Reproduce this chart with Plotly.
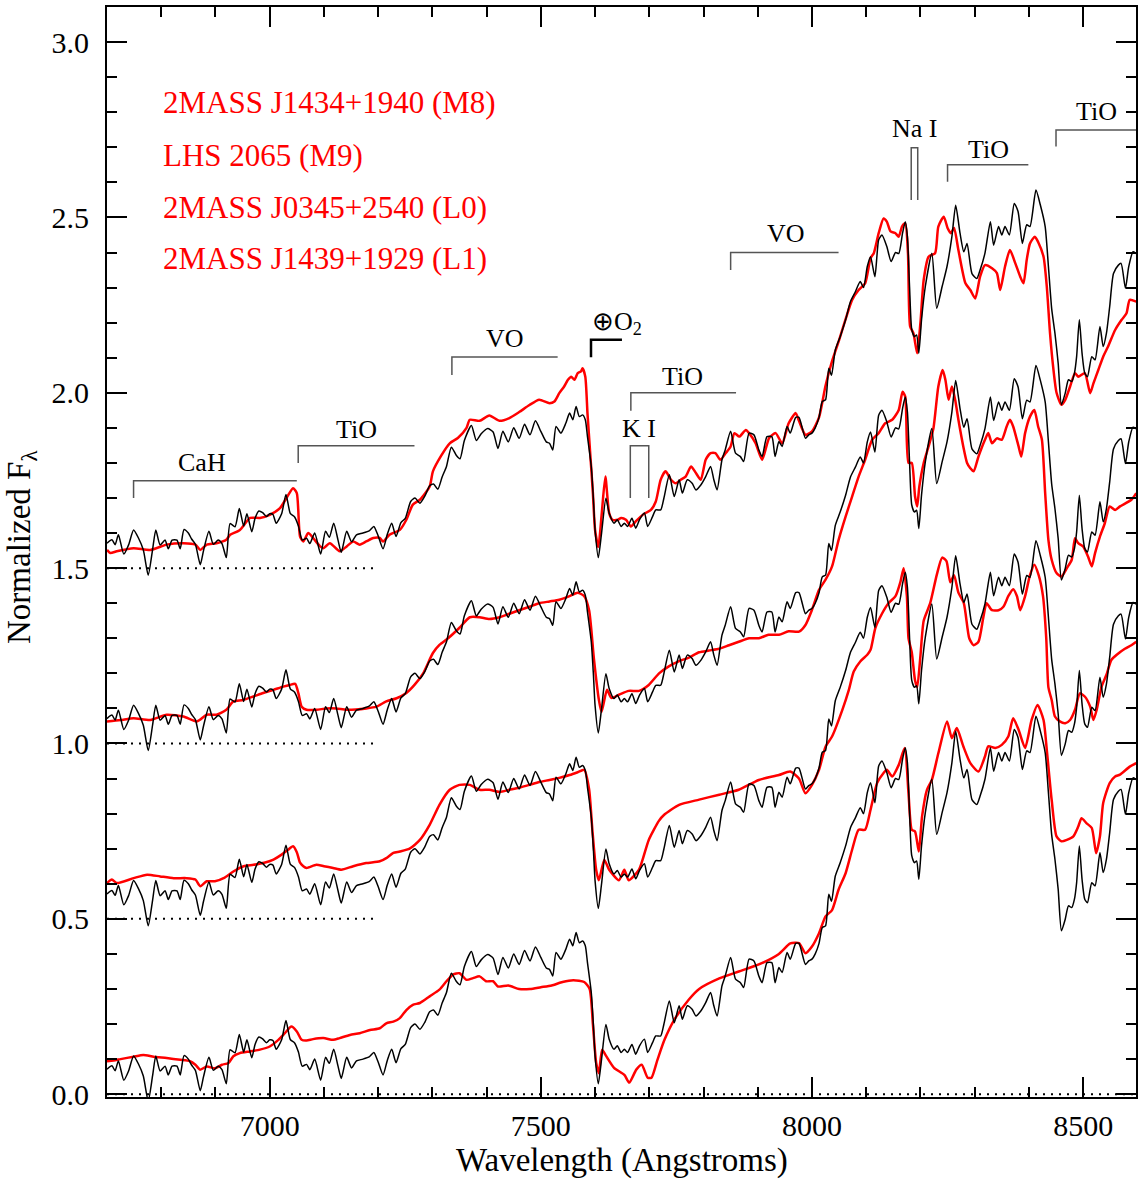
import plotly.graph_objects as go

# ---------------- data ----------------
# black comparison spectrum (same shape shown at every offset), relative flux
black_wl = [6700,6709,6715,6721,6731,6740,6749,6758,6767,6776,6784,6790,6798,6807,6813,6820,6829,6835,6842,6850,
            6856,6863,6872,6878,6888,6896,6905,6912,6920,6927,6936,6944,6952,6958,6967,6973,6980,6987,6994,7000,
            7006,7012,7022,7030,7038,7046,7053,7060,7068,7074,7083,7094,7103,7110,7118,7126,7132,7142,7151,7160,
            7172,7184,7192,7200,7209,7217,7225,7233,7242,7250,7260,7268,7277,7286,7295,7302,7310,7318,7326,7335,
            7344,7351,7359,7372,7381,7390,7402,7412,7421,7430,7440,7450,7460,7470,7480,7490,7500,7510,7516,7522,
            7528,7537,7546,7553,7559,7565,7571,7577,7582,7586,7593,7597,7600,7606,7612,7620,7626,7635,7641,7648,
            7654,7660,7668,7675,7682,7691,7697,7706,7712,7721,7727,7737,7746,7755,7761,7770,7779,7786,7795,7804,
            7813,7819,7825,7834,7840,7850,7859,7868,7874,7884,7893,7902,7908,7917,7926,7932,7939,7945,7954,7960,
            7970,7976,7988,7994,8000,8006,8013,8019,8025,8031,8036,8043,8052,8062,8071,8080,8089,8095,8102,8108,
            8116,8123,8129,8138,8146,8154,8160,8167,8172,8176,8180,8184,8189,8193,8197,8202,8209,8221,8230,8240,
            8249,8258,8265,8273,8280,8286,8295,8304,8310,8319,8329,8335,8344,8350,8356,8364,8373,8380,8388,8396,
            8402,8413,8421,8430,8436,8442,8448,8454,8460,8467,8473,8479,8484,8488,8493,8498,8503,8508,8516,8522,
            8531,8537,8543,8549,8556,8565,8570,8578,8584,8592,8598]
black_flux = [0.071,0.081,0.067,0.095,0.040,0.067,0.109,0.086,0.052,-0.020,0.052,0.109,0.066,0.080,0.055,0.080,0.080,0.055,0.110,0.100,
              0.083,0.068,0.010,0.050,0.105,0.068,0.080,0.070,0.030,0.127,0.118,0.170,0.120,0.155,0.104,0.142,0.163,0.158,0.147,0.155,
              0.153,0.128,0.155,0.210,0.156,0.146,0.120,0.080,0.085,0.070,0.100,0.040,0.105,0.088,0.128,0.080,0.045,0.105,0.075,0.095,
              0.100,0.107,0.119,0.092,0.055,0.097,0.128,0.090,0.130,0.142,0.190,0.200,0.185,0.205,0.235,0.240,0.225,0.260,0.290,0.345,
              0.322,0.312,0.364,0.407,0.364,0.383,0.398,0.388,0.341,0.390,0.360,0.400,0.370,0.410,0.380,0.420,0.390,0.360,0.356,0.337,
              0.404,0.385,0.413,0.442,0.423,0.461,0.432,0.437,0.423,0.375,0.290,0.195,0.109,0.030,0.100,0.199,0.157,0.128,0.138,0.119,
              0.128,0.119,0.142,0.114,0.138,0.157,0.119,0.147,0.166,0.166,0.200,0.266,0.204,0.252,0.214,0.252,0.242,0.223,0.237,0.261,
              0.290,0.252,0.223,0.309,0.337,0.390,0.328,0.318,0.304,0.385,0.380,0.337,0.318,0.375,0.375,0.318,0.361,0.347,0.404,0.385,
              0.430,0.430,0.370,0.380,0.385,0.400,0.430,0.475,0.480,0.570,0.550,0.622,0.660,0.708,0.760,0.788,0.817,0.800,0.860,0.888,
              0.831,0.936,0.950,0.917,0.874,0.900,0.897,0.955,0.988,0.945,0.800,0.680,0.660,0.665,0.613,0.708,0.803,0.898,0.741,0.803,
              0.860,0.945,1.035,0.955,0.902,0.926,0.840,0.826,0.850,0.898,0.988,0.921,0.974,0.950,0.974,0.950,1.040,1.017,0.926,0.979,
              0.974,1.078,1.036,0.974,0.860,0.740,0.670,0.584,0.466,0.499,0.537,0.532,0.556,0.603,0.708,0.613,0.556,0.546,0.603,0.594,
              0.689,0.632,0.670,0.746,0.840,0.864,0.869,0.798,0.859,0.902,0.897]

# red comparison standards
m8_wl = [6700,6706,6718,6749,6780,6810,6841,6863,6872,6884,6902,6920,6927,6945,6964,6982,7000,7019,7031,7043,
         7050,7056,7062,7071,7080,7093,7099,7111,7129,7142,7154,7166,7178,7191,7203,7209,7221,7240,7252,7264,
         7277,7295,7301,7316,7332,7347,7363,7369,7387,7405,7424,7442,7460,7479,7497,7516,7525,7534,7543,7550,
         7556,7562,7568,7574,7577,7582,7586,7591,7596,7600,7606,7612,7619,7626,7632,7642,7648,7657,7666,7675,
         7684,7693,7703,7712,7721,7730,7740,7749,7758,7767,7777,7786,7795,7804,7813,7822,7831,7841,7850,7857,
         7866,7878,7884,7896,7908,7921,7933,7945,7957,7970,7976,7988,8000,8013,8025,8037,8050,8062,8074,8086,
         8098,8108,8114,8123,8132,8138,8145,8154,8160,8166,8172,8177,8181,8187,8194,8200,8206,8215,8227,8233,
         8243,8250,8256,8262,8270,8283,8292,8301,8310,8319,8332,8341,8347,8356,8365,8375,8384,8390,8396,8402,
         8411,8417,8427,8433,8439,8445,8451,8460,8467,8476,8485,8491,8503,8513,8519,8528,8537,8546,8559,8571,
         8580,8586,8598]
m8_flux = [0.052,0.043,0.048,0.057,0.052,0.067,0.071,0.067,0.052,0.067,0.071,0.081,0.095,0.109,0.143,0.143,0.152,0.171,0.200,0.228,
           0.214,0.090,0.076,0.100,0.086,0.062,0.057,0.071,0.048,0.062,0.076,0.067,0.076,0.086,0.086,0.076,0.095,0.109,0.138,0.181,
           0.195,0.233,0.276,0.320,0.356,0.371,0.400,0.423,0.420,0.435,0.420,0.428,0.445,0.465,0.480,0.470,0.475,0.499,0.518,0.537,
           0.546,0.537,0.556,0.561,0.570,0.546,0.442,0.328,0.214,0.109,0.060,0.150,0.261,0.157,0.138,0.138,0.143,0.138,0.119,0.133,
           0.147,0.157,0.166,0.190,0.252,0.276,0.252,0.242,0.252,0.261,0.290,0.271,0.252,0.309,0.328,0.328,0.309,0.328,0.347,0.385,
           0.375,0.394,0.385,0.356,0.309,0.371,0.385,0.356,0.413,0.442,0.420,0.380,0.390,0.430,0.520,0.590,0.650,0.710,0.765,0.793,
           0.812,0.884,0.898,0.955,0.997,0.988,0.960,0.955,0.945,0.974,0.983,0.898,0.689,0.670,0.613,0.700,0.822,0.888,0.898,0.974,
           1.002,0.970,0.955,0.970,0.907,0.812,0.793,0.769,0.831,0.864,0.855,0.841,0.793,0.860,0.907,0.869,0.831,0.812,0.879,0.926,
           0.945,0.930,0.888,0.803,0.669,0.570,0.500,0.466,0.480,0.518,0.556,0.546,0.556,0.499,0.527,0.565,0.603,0.632,0.679,0.708,
           0.727,0.765,0.760]

m9_wl = [6700,6725,6749,6780,6810,6841,6866,6884,6902,6920,6933,6951,6970,6988,7007,7025,7037,7047,7053,7059,
         7068,7086,7105,7123,7142,7178,7197,7215,7234,7252,7267,7283,7301,7313,7329,7350,7369,7387,7405,7424,
         7442,7460,7479,7497,7516,7534,7553,7568,7580,7589,7598,7607,7612,7622,7630,7644,7662,7681,7699,7718,
         7736,7755,7773,7792,7810,7829,7847,7865,7884,7902,7920,7939,7957,7976,7988,8000,8013,8025,8037,8049,
         8062,8074,8086,8098,8111,8123,8135,8148,8160,8167,8172,8178,8184,8190,8194,8198,8206,8215,8224,8233,
         8241,8246,8252,8258,8264,8270,8279,8286,8292,8298,8307,8319,8325,8332,8341,8350,8359,8365,8371,8381,
         8386,8393,8402,8410,8417,8424,8430,8436,8442,8451,8460,8470,8479,8485,8491,8500,8509,8516,8522,8531,
         8540,8549,8559,8568,8589,8598]
m9_flux = [0.063,0.067,0.072,0.067,0.082,0.077,0.063,0.082,0.082,0.096,0.120,0.124,0.134,0.144,0.153,0.162,0.167,0.170,0.143,0.105,
           0.096,0.096,0.100,0.100,0.096,0.100,0.105,0.120,0.129,0.144,0.167,0.200,0.258,0.281,0.300,0.330,0.360,0.360,0.355,0.360,
           0.370,0.380,0.390,0.400,0.405,0.410,0.420,0.430,0.420,0.380,0.240,0.125,0.090,0.153,0.130,0.139,0.150,0.150,0.167,0.200,
           0.220,0.235,0.245,0.260,0.265,0.270,0.280,0.290,0.300,0.300,0.310,0.310,0.320,0.319,0.338,0.381,0.438,0.467,0.505,0.580,
           0.647,0.704,0.761,0.809,0.866,0.885,0.913,0.923,0.951,1.003,0.989,0.800,0.800,0.705,0.676,0.733,0.800,0.847,0.899,1.018,
           1.065,1.037,0.980,1.018,0.980,0.923,0.847,0.800,0.785,0.776,0.818,0.866,0.885,0.856,0.870,0.866,0.904,0.923,0.904,0.847,
           0.818,0.885,0.932,0.951,0.904,0.866,0.714,0.580,0.524,0.486,0.476,0.500,0.524,0.585,0.571,0.562,0.533,0.505,0.543,0.590,
           0.628,0.676,0.666,0.676,0.695,0.714]

l0_wl = [6700,6709,6718,6749,6774,6798,6823,6847,6863,6872,6884,6899,6915,6933,6952,6970,6990,7007,7022,7034,
         7043,7050,7056,7062,7068,7086,7100,7117,7132,7154,7178,7203,7215,7228,7240,7258,7277,7295,7313,7332,
         7350,7369,7387,7405,7424,7442,7460,7479,7497,7516,7534,7553,7568,7580,7589,7595,7602,7607,7617,7626,
         7644,7654,7662,7681,7699,7718,7727,7755,7792,7829,7865,7902,7939,7960,7976,7988,8000,8013,8025,8037,
         8056,8068,8077,8089,8102,8108,8117,8129,8141,8154,8163,8169,8175,8178,8184,8190,8194,8200,8206,8218,
         8230,8240,8248,8255,8262,8270,8280,8290,8298,8307,8316,8322,8332,8344,8353,8362,8371,8378,8384,8393,
         8402,8410,8418,8426,8432,8436,8442,8448,8457,8467,8476,8485,8494,8503,8513,8519,8525,8534,8543,8552,
         8562,8577,8589,8598]
l0_flux = [0.102,0.112,0.102,0.116,0.126,0.121,0.116,0.116,0.112,0.093,0.107,0.107,0.116,0.135,0.150,0.154,0.160,0.169,0.183,0.197,
           0.207,0.190,0.160,0.150,0.145,0.154,0.150,0.145,0.140,0.150,0.159,0.164,0.173,0.188,0.192,0.200,0.225,0.268,0.325,0.368,
           0.382,0.382,0.368,0.368,0.362,0.368,0.374,0.382,0.390,0.396,0.402,0.410,0.418,0.425,0.370,0.254,0.140,0.110,0.168,0.140,
           0.110,0.140,0.110,0.140,0.225,0.280,0.296,0.325,0.340,0.354,0.368,0.396,0.410,0.420,0.400,0.358,0.382,0.425,0.491,0.520,
           0.596,0.653,0.705,0.734,0.753,0.767,0.830,0.870,0.900,0.920,0.960,1.000,0.920,0.800,0.760,0.680,0.660,0.750,0.850,0.900,
           0.980,1.030,1.020,0.960,0.980,0.930,0.900,0.800,0.780,0.790,0.860,0.900,0.880,0.880,0.890,0.920,0.940,0.920,0.880,0.920,
           0.980,1.010,0.980,0.920,0.800,0.660,0.624,0.577,0.563,0.558,0.567,0.596,0.643,0.634,0.605,0.567,0.596,0.662,0.696,0.738,
           0.753,0.770,0.780,0.790]

l1_wl = [6700,6712,6725,6749,6767,6786,6810,6835,6853,6863,6872,6884,6899,6912,6924,6933,6945,6964,6982,7000,
         7016,7028,7040,7050,7059,7068,7080,7099,7117,7129,7148,7166,7185,7203,7215,7228,7240,7252,7264,7277,
         7295,7313,7326,7338,7350,7363,7375,7387,7399,7412,7421,7440,7460,7480,7500,7520,7540,7560,7580,7590,
         7596,7602,7607,7613,7620,7635,7654,7663,7676,7686,7697,7704,7715,7728,7746,7773,7792,7829,7865,7902,
         7939,7960,7976,7988,8000,8013,8025,8037,8049,8062,8074,8086,8098,8108,8120,8132,8138,8148,8160,8171,
         8178,8184,8190,8197,8203,8212,8221,8233,8249,8258,8267,8279,8292,8307,8319,8325,8338,8350,8362,8371,
         8381,8393,8405,8416,8427,8433,8442,8451,8460,8470,8482,8491,8497,8506,8516,8524,8531,8537,8549,8559,
         8568,8586,8598]
l1_flux = [0.094,0.096,0.100,0.107,0.112,0.107,0.103,0.098,0.094,0.084,0.070,0.079,0.074,0.084,0.089,0.108,0.117,0.122,0.127,0.136,
           0.155,0.174,0.193,0.179,0.155,0.153,0.157,0.160,0.155,0.160,0.169,0.174,0.183,0.188,0.202,0.207,0.217,0.240,0.255,0.260,
           0.279,0.298,0.322,0.341,0.345,0.326,0.331,0.336,0.322,0.322,0.307,0.310,0.300,0.300,0.305,0.310,0.320,0.325,0.320,0.300,
           0.200,0.090,0.060,0.127,0.110,0.075,0.055,0.033,0.070,0.084,0.047,0.047,0.098,0.155,0.212,0.270,0.300,0.330,0.350,0.370,
           0.400,0.430,0.431,0.402,0.421,0.459,0.507,0.525,0.583,0.630,0.697,0.754,0.754,0.811,0.887,0.916,0.925,0.906,0.939,0.987,
           0.858,0.754,0.749,0.692,0.792,0.868,0.896,0.972,1.063,1.015,1.044,0.992,0.944,0.920,0.963,0.992,0.987,0.996,1.020,1.072,
           1.039,0.987,1.067,1.110,1.067,0.982,0.839,0.735,0.721,0.725,0.735,0.763,0.787,0.773,0.759,0.687,0.735,0.830,0.887,0.906,
           0.911,0.934,0.944]

offsets = [1.5, 1.0, 0.5, 0.0]
red_series = [(m8_wl, m8_flux), (m9_wl, m9_flux), (l0_wl, l0_flux), (l1_wl, l1_flux)]
legend_names = ["2MASS J1434+1940 (M8)", "LHS 2065 (M9)", "2MASS J0345+2540 (L0)", "2MASS J1439+1929 (L1)"]
legend_y = [2.828, 2.678, 2.528, 2.382]

x_ticks = [7000, 7500, 8000, 8500]
y_ticks = [0.0, 0.5, 1.0, 1.5, 2.0, 2.5, 3.0]

# feature labels: (text, x, y)
feature_labels = [("CaH", 6875, 1.80), ("TiO", 7160, 1.894), ("VO", 7433, 2.154),
                  ("\u2295O<sub>2</sub>", 7640, 2.198), ("TiO", 7761, 2.046), ("K I", 7681, 1.899),
                  ("VO", 7952, 2.455), ("Na I", 8189, 2.754), ("TiO", 8325, 2.694), ("TiO", 8525, 2.802)]
# bracket polylines (x list, y list)
brackets = [([6749, 6749, 7050], [1.70, 1.749, 1.749]),
            ([7052.6, 7052.6, 7267], [1.80, 1.849, 1.849]),
            ([7336, 7336, 7531], [2.051, 2.102, 2.102]),
            ([7666, 7666, 7860], [1.949, 2.0, 2.0]),
            ([7665, 7665, 7699, 7699], [1.70, 1.849, 1.849, 1.70]),
            ([7850, 7850, 8049], [2.35, 2.40, 2.40]),
            ([8183, 8183, 8195, 8195], [2.55, 2.699, 2.699, 2.55]),
            ([8250, 8250, 8399], [2.602, 2.65, 2.65]),
            ([8450, 8450, 8600], [2.702, 2.749, 2.749])]
o2_bracket = ([7592.5, 7592.5, 7649.6], [2.101, 2.151, 2.151])

FONT = "Liberation Serif"

fig = go.Figure()

# dotted zero levels
for off in offsets:
    xend = 8600 if off == 0.0 else 7200
    fig.add_trace(go.Scatter(x=[6700, xend], y=[off, off], mode="lines",
                             line=dict(color="black", width=2, dash="2px,6px"),
                             showlegend=False, hoverinfo="skip"))

for (wl, fl), off in zip(red_series, offsets):
    fig.add_trace(go.Scatter(x=wl, y=[v + off for v in fl], mode="lines",
                             line=dict(color="#ff0000", width=2.5, shape="spline", smoothing=0.6),
                             showlegend=False))
    fig.add_trace(go.Scatter(x=black_wl, y=[v + off for v in black_flux], mode="lines",
                             line=dict(color="black", width=1.5, shape="spline", smoothing=0.6),
                             showlegend=False))

shapes = []
for bx, by in brackets:
    path = "M " + " L ".join(f"{a},{b}" for a, b in zip(bx, by))
    shapes.append(dict(type="path", path=path, xref="x", yref="y",
                       line=dict(color="#555555", width=1.5)))
path = "M " + " L ".join(f"{a},{b}" for a, b in zip(*o2_bracket))
shapes.append(dict(type="path", path=path, xref="x", yref="y",
                   line=dict(color="black", width=2.5)))

annotations = []
for txt, xx, yy in feature_labels:
    annotations.append(dict(text=txt, x=xx, y=yy, xref="x", yref="y", showarrow=False,
                            xanchor="center", yanchor="middle",
                            font=dict(family=FONT, size=26, color="black")))
for name, yy in zip(legend_names, legend_y):
    annotations.append(dict(text=name, x=6800, y=yy, xref="x", yref="y", showarrow=False,
                            xanchor="left", yanchor="middle",
                            font=dict(family=FONT, size=31, color="#ff0000")))
annotations.append(dict(text="Wavelength (Angstroms)", x=0.5, y=0, xref="paper", yref="paper",
                        showarrow=False, xanchor="center", yanchor="middle", yshift=-63,
                        font=dict(family=FONT, size=33, color="black")))
annotations.append(dict(text="Normalized F<sub>\u03bb</sub>", x=0, y=0.5046, xref="paper", yref="paper",
                        showarrow=False, xanchor="center", yanchor="middle", xshift=-85, textangle=-90,
                        font=dict(family=FONT, size=33, color="black")))

axis_common = dict(showline=True, linewidth=2, linecolor="black", mirror="ticks",
                   ticks="inside", ticklen=20, tickwidth=1.5, tickcolor="black",
                   showgrid=False, zeroline=False,
                   tickfont=dict(family=FONT, size=30, color="black"))

fig.update_layout(
    width=1138, height=1179,
    margin=dict(l=107, r=0, t=7, b=82),
    paper_bgcolor="white", plot_bgcolor="white",
    shapes=shapes, annotations=annotations,
    xaxis=dict(range=[6700, 8597.5], tickvals=x_ticks, ticklabelstandoff=1,
               minor=dict(dtick=100, ticklen=10, tickwidth=1.5, ticks="inside", tickcolor="black", showgrid=False),
               **axis_common),
    yaxis=dict(range=[-0.008, 3.1], tickvals=y_ticks, tickformat=".1f", ticklabelstandoff=10,
               minor=dict(dtick=0.1, ticklen=10, tickwidth=1.5, ticks="inside", tickcolor="black", showgrid=False),
               **axis_common),
    showlegend=False,
)

fig.write_html("out.html")
